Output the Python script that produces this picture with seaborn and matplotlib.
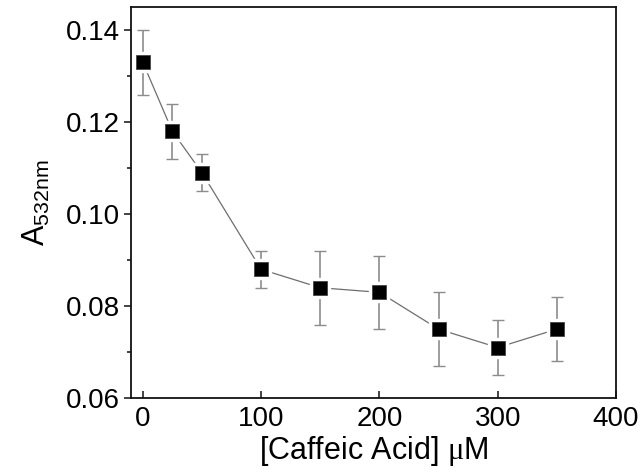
import matplotlib
matplotlib.use("Agg")
import matplotlib.pyplot as plt
import seaborn as sns
import pandas as pd
from matplotlib.ticker import MultipleLocator

# Data
conc = [0, 25, 50, 100, 150, 200, 250, 300, 350]
absorb = [0.133, 0.118, 0.109, 0.088, 0.084, 0.083, 0.075, 0.071, 0.075]
err = [0.007, 0.006, 0.004, 0.004, 0.008, 0.008, 0.008, 0.006, 0.007]
xticks = [0, 100, 200, 300, 400]
yticks = [0.06, 0.08, 0.10, 0.12, 0.14]

sns.set_theme(style="white")
plt.rcParams['font.family'] = ['Liberation Sans', 'DejaVu Sans']
plt.rcParams['mathtext.fontset'] = 'custom'
plt.rcParams['mathtext.rm'] = 'Liberation Sans'
plt.rcParams['mathtext.sf'] = 'Liberation Serif'
plt.rcParams['text.color'] = 'black'
plt.rcParams['axes.labelcolor'] = 'black'
plt.rcParams['xtick.color'] = 'black'
plt.rcParams['ytick.color'] = 'black'

df = pd.DataFrame({"conc": conc, "A": absorb, "err": err})

fig = plt.figure(figsize=(6.42, 4.74), dpi=100)
ax = fig.add_axes([0.204, 0.160, 0.7555, 0.825])

sns.lineplot(data=df, x="conc", y="A", ax=ax, color="#6e6e6e", linewidth=0.9,
             zorder=1, legend=False)
ax.errorbar(df["conc"], df["A"], yerr=df["err"], fmt="none", ecolor="#8c8c8c",
            elinewidth=1.2, capsize=4, capthick=1.0, zorder=2)
# white halo to create gaps, then black squares
ax.plot(df["conc"], df["A"], linestyle="none", marker="s", markersize=14,
        markerfacecolor="white", markeredgecolor="white", zorder=3)
ax.plot(df["conc"], df["A"], linestyle="none", marker="s", markersize=9.8,
        markerfacecolor="black", markeredgecolor="#444444", markeredgewidth=0.6,
        zorder=4)

ax.set_xlim(-10, 400)
ax.set_ylim(0.06, 0.145)
ax.set_xticks(xticks)
ax.set_yticks(yticks)
ax.set_xticklabels([str(t) for t in xticks])
ax.set_yticklabels([f"{t:.2f}" for t in yticks])
ax.yaxis.set_minor_locator(MultipleLocator(0.01))

ax.tick_params(axis="x", which="major", direction="in", length=5, width=1.1,
               color="#111111", labelsize=20, pad=6, bottom=True, top=False)
ax.tick_params(axis="y", which="major", direction="out", length=5, width=1.1,
               color="#111111", labelsize=20, pad=3, left=True)
ax.tick_params(axis="y", which="minor", direction="out", length=3, width=1.1,
               color="#111111", left=True)

for s in ax.spines.values():
    s.set_color("#111111")
    s.set_linewidth(1.3)
    s.set_visible(True)

ax.set_xlabel("[Caffeic Acid] $\\mathsf{\\mu}$M", fontsize=22, labelpad=1)
ax.set_ylabel("A$_{\\mathregular{532nm}}$", fontsize=22, labelpad=10)

fig.savefig("out.png", dpi=100, facecolor="white")
